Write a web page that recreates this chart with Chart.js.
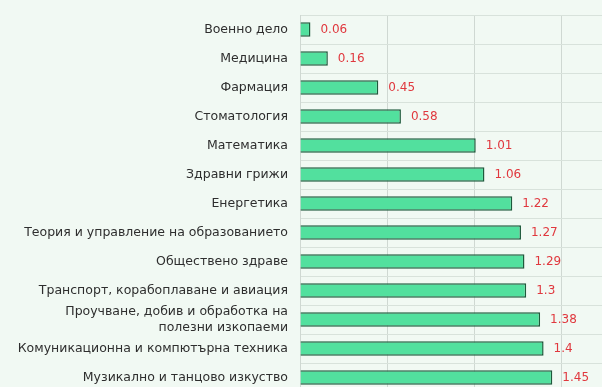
<!DOCTYPE html>
<html lang="bg">
<head>
    <meta charset="UTF-8">
    <title>Специалности</title>
    <style>
        html, body { margin: 0; padding: 0; background: #f1f9f3; overflow: hidden; }
        .wrap { position: relative; width: 648px; height: 400px; }
    </style>
    <script src="https://cdn.jsdelivr.net/npm/chart.js"></script>
</head>
<body>
<div class="wrap"><canvas id="chart"></canvas></div>
<script>
    const categories = [
        'Военно дело',
        'Медицина',
        'Фармация',
        'Стоматология',
        'Математика',
        'Здравни грижи',
        'Енергетика',
        'Теория и управление на образованието',
        'Обществено здраве',
        'Транспорт, корабоплаване и авиация',
        ['Проучване, добив и обработка на', 'полезни изкопаеми'],
        'Комуникационна и компютърна техника',
        'Музикално и танцово изкуство'
    ];
    const values = [0.06, 0.16, 0.45, 0.58, 1.01, 1.06, 1.22, 1.27, 1.29, 1.3, 1.38, 1.4, 1.45];

    const fontFamily = '"DejaVu Sans", sans-serif';

    const valueLabels = {
        id: 'valueLabels',
        afterDatasetsDraw(chart) {
            const ctx = chart.ctx;
            const meta = chart.getDatasetMeta(0);
            ctx.save();
            ctx.fillStyle = '#e0383e';
            ctx.font = '12px ' + fontFamily;
            ctx.textBaseline = 'middle';
            ctx.textAlign = 'left';
            meta.data.forEach((bar, i) => {
                ctx.fillText(String(values[i]), bar.x + 10, bar.y);
            });
            ctx.restore();
        }
    };

    new Chart(document.getElementById('chart'), {
        type: 'bar',
        data: {
            labels: categories,
            datasets: [{
                data: values,
                backgroundColor: '#52e09e',
                borderColor: '#1e5a3c',
                borderWidth: 1.5,
                barPercentage: 0.5,
                categoryPercentage: 1
            }]
        },
        options: {
            indexAxis: 'y',
            responsive: true,
            maintainAspectRatio: false,
            animation: false,
            layout: { padding: { top: 15, bottom: 0, left: 0, right: 0 } },
            plugins: {
                legend: { display: false },
                tooltip: { enabled: false }
            },
            scales: {
                x: {
                    min: 0,
                    max: 2,
                    ticks: { display: false, stepSize: 0.5 },
                    grid: { color: '#cfd8d2', drawTicks: false },
                    border: { display: false },
                    afterFit(scale) { scale.height = 8; }
                },
                y: {
                    afterFit(scale) {
                        scale.width = 300;
                        scale.paddingTop = 0;
                        scale.paddingBottom = 0;
                    },
                    ticks: {
                        color: '#2e2e2e',
                        font: { family: fontFamily, size: 12.5, lineHeight: 1.28 },
                        padding: 12,
                        autoSkip: false
                    },
                    grid: { color: '#d8e2db', drawTicks: false, offset: true },
                    border: { color: '#cfd8d2' }
                }
            }
        },
        plugins: [valueLabels]
    });
</script>
</body>
</html>
